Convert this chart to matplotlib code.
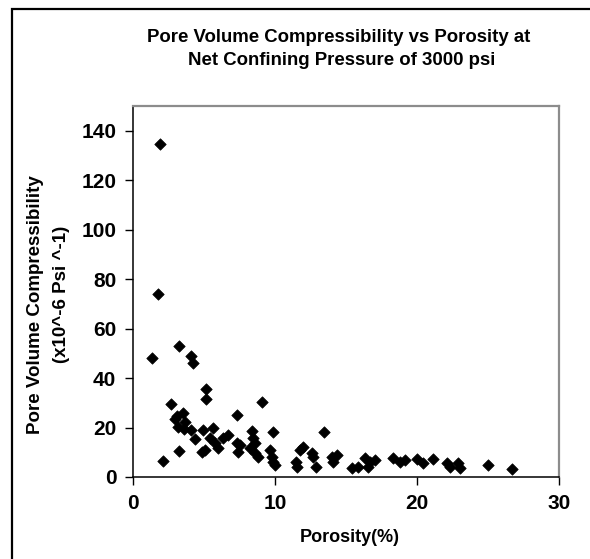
import matplotlib
matplotlib.use("Agg")
import matplotlib.pyplot as plt
from matplotlib.patches import Rectangle

porosity = [1.90, 1.78, 1.32, 3.24, 4.08, 4.20, 5.14, 5.14, 2.65, 9.06,
            7.35, 2.09, 3.24, 4.37, 2.96, 3.50, 3.19, 3.66, 4.06, 4.95,
            5.65, 4.84, 5.07, 5.42, 5.77, 6.01, 6.36, 6.71, 7.30, 7.54,
            7.42, 8.36, 8.47, 8.59, 8.24, 8.59, 8.82, 9.84, 9.65, 9.77,
            9.88, 10.0, 11.99, 11.76, 12.58, 12.70, 11.48, 11.53, 12.89, 13.45,
            13.99, 14.35, 14.11, 15.40, 15.87, 16.34, 16.69, 17.04, 16.57, 18.33,
            18.80, 19.15, 19.98, 20.44, 21.15, 22.09, 22.32, 22.91, 23.03, 24.98,
            26.67, 3.10, 3.60]
compressibility = [134.7, 73.9, 48.2, 52.9, 49.1, 46.1, 35.6, 31.5, 29.5, 30.2,
                   25.2, 6.5, 10.5, 15.5, 23.5, 25.8, 20.4, 22.4, 19.1, 19.1,
                   19.8, 10.3, 11.0, 15.7, 13.7, 11.6, 15.7, 17.0, 13.7, 13.0,
                   10.3, 18.4, 15.7, 13.7, 11.6, 9.6, 8.2, 18.2, 11.0, 8.2,
                   6.2, 4.9, 12.3, 11.0, 9.6, 8.2, 6.2, 4.2, 4.2, 18.0,
                   8.2, 8.9, 6.2, 3.5, 4.2, 7.6, 6.2, 6.9, 4.2, 7.6,
                   6.2, 6.9, 7.2, 5.6, 7.2, 5.5, 4.2, 5.5, 3.5, 4.9,
                   3.1, 24.5, 19.5]

x_ticks = [0, 10, 20, 30]
y_ticks = [0, 20, 40, 60, 80, 100, 120, 140]

title_lines = ["Pore Volume Compressibility vs Porosity at",
               "Net Confining Pressure of 3000 psi"]
ylabel_lines = ["Pore Volume Compressibility", "(x10^-6 Psi ^-1)"]
xlabel = "Porosity(%)"

plt.rcParams['font.family'] = ['Liberation Sans', 'DejaVu Sans']

W, H = 590, 559
fig = plt.figure(figsize=(W / 100, H / 100), dpi=100)
fig.patch.set_facecolor('white')

def fx(px):
    return px / W

def fy(py):
    return 1 - py / H

ax = fig.add_axes([fx(133), fy(477), fx(559) - fx(133), fy(106) - fy(477)])
ax.scatter(porosity, compressibility, marker='D', s=34, color='black',
           edgecolors='black', linewidths=0.5, zorder=3)

ax.set_xlim(0, 30)
ax.set_ylim(0, 150)
ax.set_xticks(x_ticks)
ax.set_yticks(y_ticks)
ax.tick_params(direction='out', length=6, width=1, color='black',
               labelsize=15, pad=6)
for lab in ax.get_xticklabels() + ax.get_yticklabels():
    lab.set_fontweight('bold')

for s in ['left', 'bottom']:
    ax.spines[s].set_color('black')
    ax.spines[s].set_linewidth(1.1)
for s in ['top', 'right']:
    ax.spines[s].set_color('#8c8c8c')
    ax.spines[s].set_linewidth(1.6)

fig.text(fx(339), fy(37), title_lines[0], ha='center', va='center',
         fontsize=13.4, fontweight='bold')
fig.text(fx(342), fy(61), title_lines[1], ha='center', va='center',
         fontsize=13.4, fontweight='bold')

fig.text(fx(36), fy(305), ylabel_lines[0], ha='center', va='center',
         rotation=90, fontsize=13.5, fontweight='bold')
fig.text(fx(62), fy(294), ylabel_lines[1], ha='center', va='center',
         rotation=90, fontsize=13.5, fontweight='bold')

fig.text(fx(350), fy(537), xlabel, ha='center', va='center',
         fontsize=13, fontweight='bold')

fig.add_artist(Rectangle((fx(12), -0.2), 1.5, fy(9) + 0.2,
                         transform=fig.transFigure, fill=False,
                         edgecolor='black', linewidth=1.6))

fig.savefig("out.png", dpi=100)
